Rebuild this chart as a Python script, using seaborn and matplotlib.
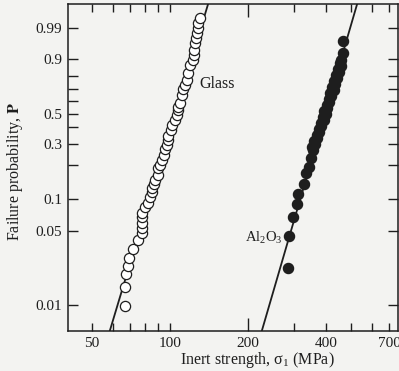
import numpy as np
import seaborn as sns
import matplotlib
matplotlib.use("Agg")
import matplotlib.pyplot as plt
from matplotlib.ticker import FixedLocator, FixedFormatter, NullFormatter

# --- data ---
glass_strength = [67.1, 67.1, 67.6, 68.9, 69.5, 72.0, 75.3, 78.0, 78.0, 78.0,
                  78.0, 78.0, 80.1, 82.2, 83.7, 85.2, 85.2, 86.7, 87.5, 89.9,
                  89.9, 91.5, 93.1, 94.8, 95.7, 97.4, 98.2, 98.2, 100.9, 101.8,
                  104.5, 106.4, 107.4, 107.4, 109.3, 111.3, 112.3, 114.2, 116.3, 117.4,
                  119.5, 122.7, 123.8, 123.8, 124.9, 126.0, 127.1, 128.3, 128.3, 130.6]
glass_prob = [0.0098, 0.0148, 0.0197, 0.0235, 0.0280, 0.0341, 0.0414, 0.0482, 0.0537, 0.0597,
              0.0679, 0.0740, 0.0840, 0.0914, 0.1037, 0.1151, 0.1251, 0.1358, 0.1473, 0.1632,
              0.1878, 0.1993, 0.2199, 0.2421, 0.2714, 0.2926, 0.3205, 0.3444, 0.3824, 0.4164,
              0.4521, 0.4892, 0.5279, 0.5514, 0.5837, 0.6487, 0.6970, 0.7288, 0.7674, 0.8175,
              0.8687, 0.8965, 0.9207, 0.9409, 0.9633, 0.9750, 0.9838, 0.9900, 0.9942, 0.9968]

alumina_strength = [285.4, 288.0, 298.4, 309.1, 311.9, 329.0, 335.0, 344.0, 350.2, 356.3,
                    354.0, 364.0, 360.0, 369.0, 370.0, 376.0, 377.0, 383.0, 384.0, 392.0,
                    388.0, 399.0, 394.0, 403.0, 405.0, 410.0, 412.0, 418.0, 416.0, 428.0,
                    423.0, 435.0, 431.0, 440.0, 436.0, 447.0, 443.0, 455.0, 451.0, 457.0,
                    465.2, 465.2]
alumina_prob = [0.0225, 0.0451, 0.0679, 0.0895, 0.1104, 0.1358, 0.1699, 0.1916, 0.2286, 0.2664,
                0.2817, 0.2980, 0.3147, 0.3322, 0.3506, 0.3695, 0.3890, 0.4095, 0.4303, 0.4521,
                0.4742, 0.4967, 0.5201, 0.5436, 0.5673, 0.5917, 0.6160, 0.6405, 0.6649, 0.6890,
                0.7131, 0.7366, 0.7595, 0.7820, 0.8035, 0.8245, 0.8442, 0.8628, 0.8803, 0.8965,
                0.9293, 0.9684]

# Weibull fits: (modulus m, characteristic strength sigma0)
glass_fit = (8.28, 109.4)
alumina_fit = (8.54, 414.3)

x_major = [50, 100, 200, 400, 700]
x_minor = [40, 60, 70, 80, 90, 300, 500, 600]
y_labeled = [0.01, 0.05, 0.1, 0.3, 0.5, 0.9, 0.99]
y_minor = [0.2, 0.4, 0.6, 0.7, 0.8]

sns.set_style("ticks")
plt.rcParams['font.family'] = ['Liberation Serif', 'DejaVu Serif']
plt.rcParams['mathtext.fontset'] = 'stix'
plt.rcParams['mathtext.default'] = 'regular'

INK = '#1e1e1e'
BG = '#f3f3f1'


def weibull_fwd(p):
    p = np.clip(p, 1e-12, 1 - 1e-15)
    return np.log(-np.log(1 - p))


def weibull_inv(y):
    return 1 - np.exp(-np.exp(y))


fig = plt.figure(figsize=(3.99, 3.71), dpi=100, facecolor=BG)
ax = fig.add_axes([0.1704, 0.1078, 0.8271, 0.8814], facecolor=BG)
ax.set_xscale('log')
ax.set_yscale('function', functions=(weibull_fwd, weibull_inv))

# fitted lines
for (m, s0), lo, hi in [(glass_fit, 50, 160), (alumina_fit, 200, 600)]:
    s = np.geomspace(lo, hi, 60)
    p = 1 - np.exp(-(s / s0) ** m)
    sns.lineplot(x=s, y=p, ax=ax, color=INK, lw=1.3, zorder=1, sort=False)

sns.scatterplot(x=glass_strength, y=glass_prob, ax=ax, s=54, marker='o',
                facecolor='white', edgecolor=INK, linewidth=0.9, zorder=3)
sns.scatterplot(x=alumina_strength, y=alumina_prob, ax=ax, s=54, marker='o',
                color=INK, edgecolor=INK, linewidth=0.9, zorder=3)

ax.set_xlim(40.4, 758)
ax.set_ylim(0.005634, 0.999603)

ax.xaxis.set_major_locator(FixedLocator(x_major))
ax.xaxis.set_major_formatter(FixedFormatter([str(v) for v in x_major]))
ax.xaxis.set_minor_locator(FixedLocator(x_minor))
ax.xaxis.set_minor_formatter(NullFormatter())
ax.yaxis.set_major_locator(FixedLocator(y_labeled))
ax.yaxis.set_major_formatter(FixedFormatter([str(v) for v in y_labeled]))
ax.yaxis.set_minor_locator(FixedLocator(y_minor))
ax.yaxis.set_minor_formatter(NullFormatter())

ax.tick_params(which='both', direction='in', top=True, right=True,
               colors=INK, labelsize=11, width=1.0)
ax.tick_params(axis='x', which='major', length=5.5, pad=4)
ax.tick_params(axis='x', which='minor', length=5.5)
ax.tick_params(axis='y', which='both', length=7, pad=4)
for t in ax.xaxis.get_major_ticks():
    if t.get_loc() == 100:
        t.tick1line.set_markersize(9.5)
        t.tick2line.set_markersize(9.5)

for sp in ax.spines.values():
    sp.set_color(INK)
    sp.set_linewidth(1.1)

ax.text(129.4, 0.7366, 'Glass', fontsize=11.5, color=INK, ha='left', va='center')
ax.text(194.8, 0.0432, 'Al$_2$O$_3$', fontsize=10.5, color=INK, ha='left', va='center')

ax.set_xlabel('')
ax.set_ylabel('')
fig.text(257 / 399, 1 - 360 / 371, r'Inert strength, $\sigma_1$ (MPa)',
         fontsize=11.5, color=INK, ha='center', va='center')
fig.text(15 / 399, 1 - 171 / 371, r'Failure probability, $\mathbf{P}$',
         fontsize=11.5, color=INK, ha='center', va='center', rotation=90)

fig.savefig('out.png', dpi=100, facecolor=BG)
